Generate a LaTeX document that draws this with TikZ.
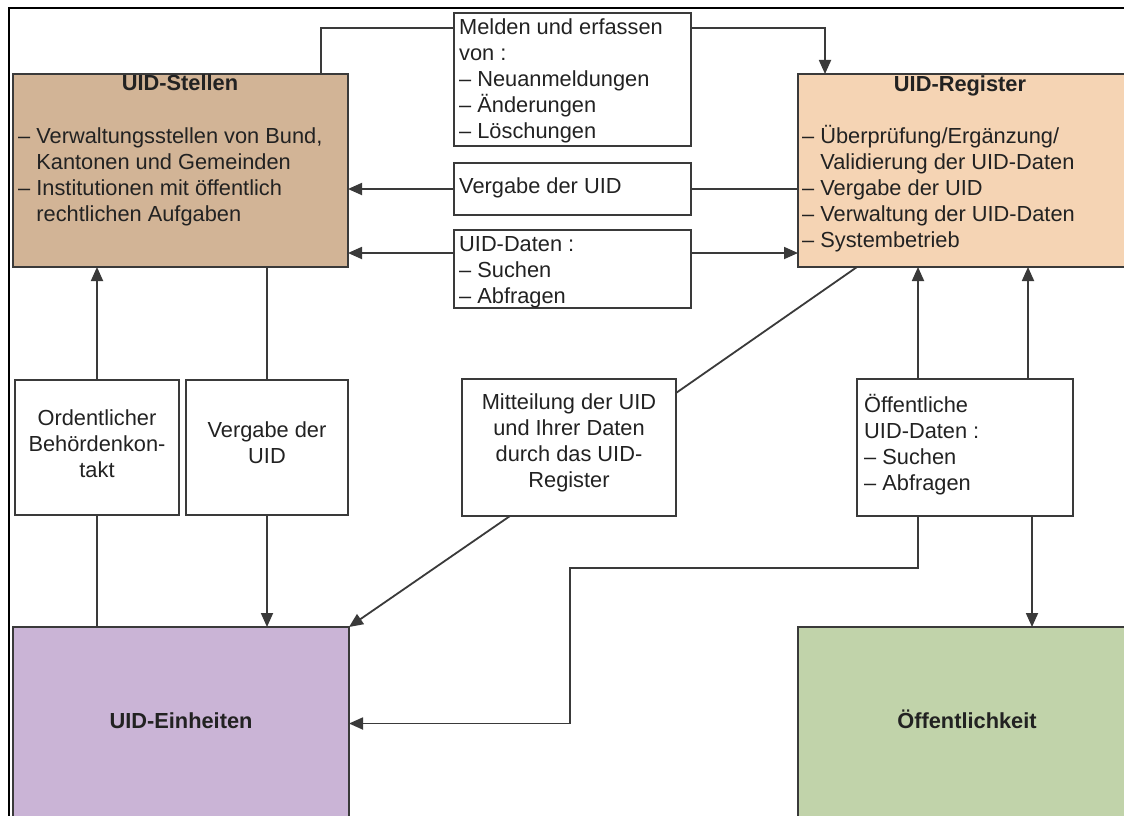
\documentclass[tikz,border=0pt]{standalone}
\usepackage{fontspec}
\setmainfont{Liberation Sans}
\usetikzlibrary{arrows.meta}
\definecolor{cStellen}{HTML}{D2B496}
\definecolor{cReg}{HTML}{F5D4B4}
\definecolor{cEin}{HTML}{CAB4D6}
\definecolor{cOeff}{HTML}{C1D3AA}
\definecolor{cLine}{HTML}{3A3A3A}
\definecolor{cText}{HTML}{222222}
\newcommand\fs{\rule{0pt}{20pt}}
\newcommand\hng{\phantom{–\ }}
\begin{document}
\begin{tikzpicture}[x=1pt,y=-1pt,
  box/.style={draw=cLine,line width=1.8pt,anchor=north west,inner sep=0pt,outer sep=0pt},
  ln/.style={draw=cLine,line width=1.8pt},
  arr/.style={ln,-{Triangle[length=14pt,width=12pt]}},
  txt/.style={inner sep=0pt,font=\fontsize{21.8}{26}\selectfont,text=cText,align=left,anchor=north west},
  txtc/.style={txt,align=center,anchor=north},
  ttl/.style={inner sep=0pt,font=\fontsize{21.8}{26}\selectfont\bfseries,text=cText,anchor=base}]
\useasboundingbox (0,0) rectangle (1124,816);
\clip (0,0) rectangle (1124,816);
\fill[white] (0,0) rectangle (1124,816);
% frame
\draw[line width=2.5pt,black] (9,8) rectangle (1140,830);
% main boxes
\node[box,fill=cStellen,minimum width=335pt,minimum height=193pt] (stellen) at (13,74) {};
\node[box,fill=cReg,minimum width=335pt,minimum height=193pt] (reg) at (798,74) {};
\node[box,fill=cEin,minimum width=336pt,minimum height=193pt] (ein) at (13,627) {};
\node[box,fill=cOeff,minimum width=338pt,minimum height=193pt] (oeff) at (798,627) {};
% label boxes
\node[box,fill=white,minimum width=237pt,minimum height=133pt] (melden) at (454,13) {};
\node[box,fill=white,minimum width=237pt,minimum height=52pt] (vg1) at (454,163) {};
\node[box,fill=white,minimum width=237pt,minimum height=78pt] (dat) at (454,230) {};
\node[box,fill=white,minimum width=164pt,minimum height=135pt] (ord) at (15,380) {};
\node[box,fill=white,minimum width=162pt,minimum height=135pt] (vg2) at (186,380) {};
\node[box,fill=white,minimum width=214pt,minimum height=137pt] (mit) at (462,379) {};
\node[box,fill=white,minimum width=216pt,minimum height=137pt] (oef) at (857,379) {};
% connectors top
\coordinate (s1) at ([xshift=-27pt]stellen.north east);
\coordinate (m1) at ([yshift=-15pt]melden.north west);
\coordinate (m2) at ([yshift=-15pt]melden.north east);
\coordinate (r1) at ([xshift=27pt]reg.north west);
\draw[ln] (s1) |- (m1);
\draw[arr] (m2) -| (r1);
\draw[ln] (reg.west |- vg1.east) -- (vg1.east);
\draw[arr] (vg1.west) -- (vg1.west -| stellen.east);
\coordinate (d1) at ([yshift=16pt]dat.west);
\coordinate (d2) at ([yshift=16pt]dat.east);
\draw[arr] (d1) -- (d1 -| stellen.east);
\draw[arr] (d2) -- (d2 -| reg.west);
% left bottom
\draw[arr] (ord.north) -- (ord.north |- stellen.south);
\draw[ln] (ord.south) -- (ord.south |- ein.north);
\draw[ln] (vg2.north |- stellen.south) -- (vg2.north);
\draw[arr] (vg2.south) -- (vg2.south |- ein.north);
% Mitteilung
\draw[ln] ([xshift=59pt]reg.south west) -- ([yshift=-14pt]mit.north east);
\draw[arr] ([xshift=48pt]mit.south west) -- (ein.north east);
% Oeffentliche
\coordinate (o1) at ([xshift=61pt]oef.north west);
\coordinate (o2) at ([xshift=171pt]oef.north west);
\coordinate (o3) at ([xshift=61pt]oef.south west);
\coordinate (o4) at ([xshift=175pt]oef.south west);
\coordinate (k1) at (570,568);
\draw[arr] (o1) -- (o1 |- reg.south);
\draw[arr] (o2) -- (o2 |- reg.south);
\draw[arr] (o3) |- (k1) |- (ein.east);
\draw[arr] (o4) -- (o4 |- oeff.north);
% texts
\node[ttl] (tStellen) at (180,90) {UID-Stellen};
\node[txt] (lStellen) at (18,123) {\fs– Verwaltungsstellen von Bund,\\
\hng Kantonen und Gemeinden\\
– Institutionen mit öffentlich\\
\hng rechtlichen Aufgaben};
\node[ttl] (tReg) at (960,91) {UID-Register};
\node[txt] (lReg) at (802,123) {\fs– Überprüfung/Ergänzung/\\
\hng Validierung der UID-Daten\\
– Vergabe der UID\\
– Verwaltung der UID-Daten\\
– Systembetrieb};
\node[txt] (lMelden) at (459,14) {\fs Melden und erfassen\\ von :\\ – Neuanmeldungen\\ – Änderungen\\ – Löschungen};
\node[txt] (lVg1) at (459,173) {\fs Vergabe der UID};
\node[txt] (lDat) at (459,231) {\fs UID-Daten :\\ – Suchen\\ – Abfragen};
\node[txtc] (lOrd) at (97,405) {\fs Ordentlicher\\ Behördenkon-\\ takt};
\node[txtc] (lVg2) at (267,417) {\fs Vergabe der\\ UID};
\node[txtc] (lMit) at (569,389) {\fs Mitteilung der UID\\ und Ihrer Daten\\ durch das UID-\\ Register};
\node[txt] (lOef) at (864,392) {\fs Öffentliche\\ UID-Daten :\\ – Suchen\\ – Abfragen};
\node[ttl] (tEin) at (181,728) {UID-Einheiten};
\node[ttl] (tOeff) at (967,728) {Öffentlichkeit};
\end{tikzpicture}
\end{document}
